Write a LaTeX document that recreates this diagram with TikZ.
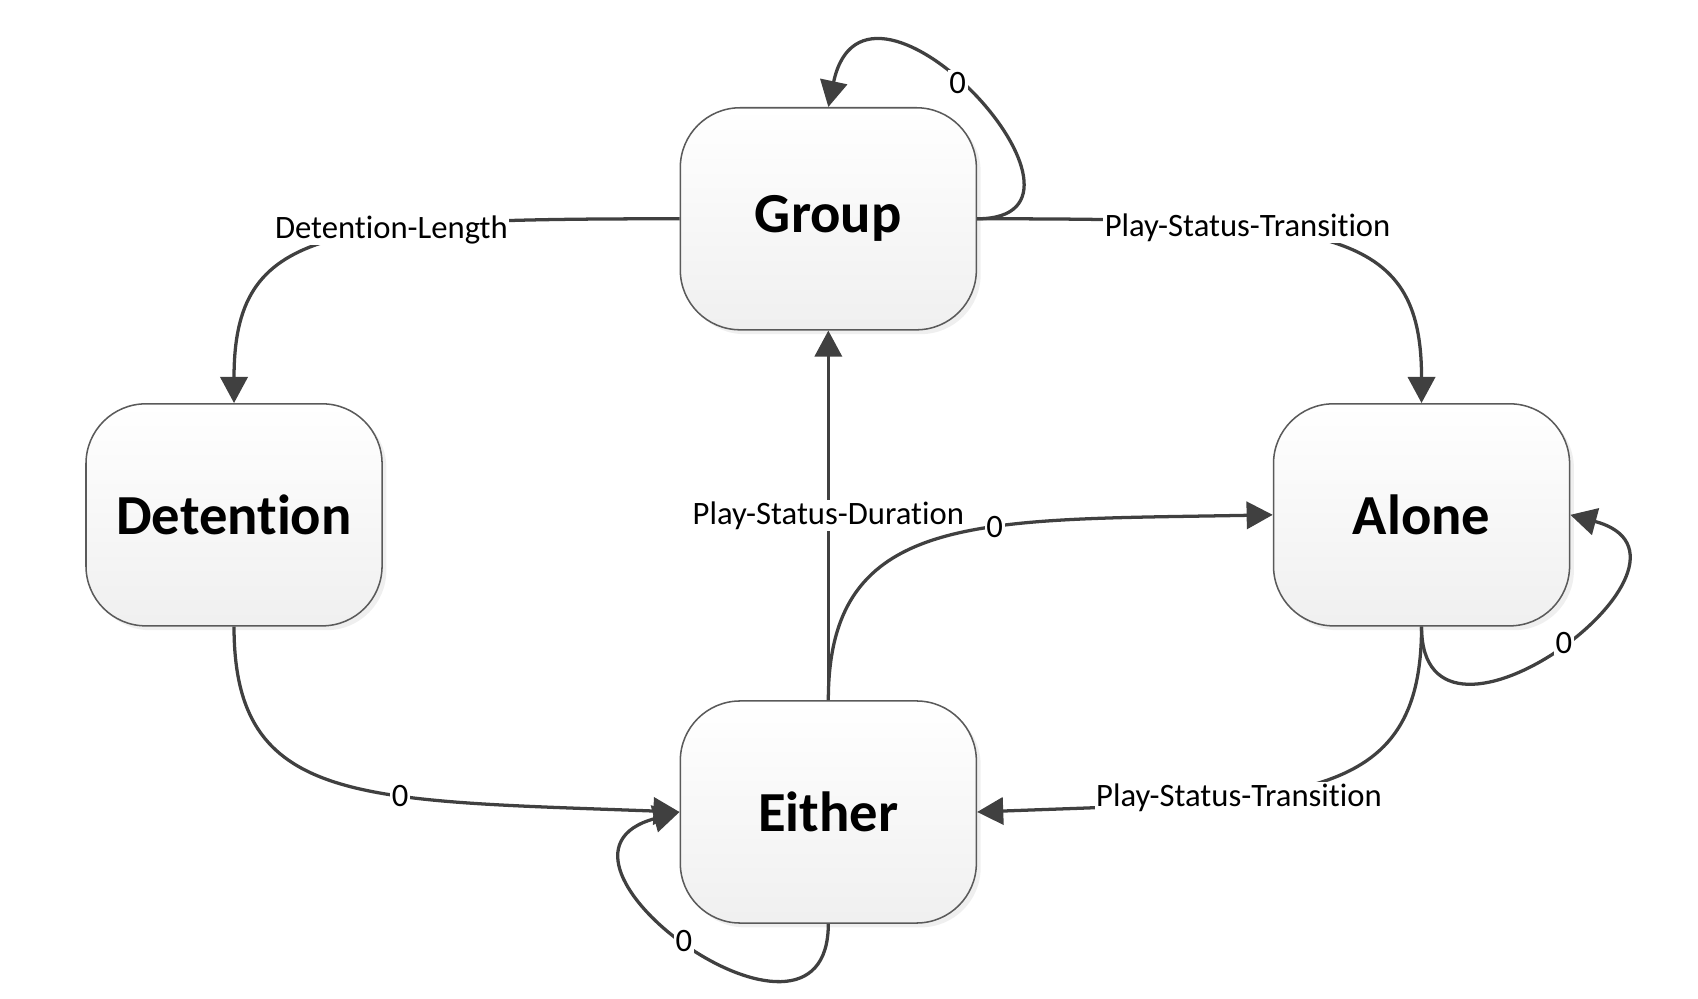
\documentclass[tikz,border=0pt]{standalone}
\usepackage{fontspec}
\setmainfont[Ligatures=NoCommon]{Carlito}
\usetikzlibrary{arrows.meta,shadows}
\definecolor{linec}{HTML}{404040}
\definecolor{boxc}{HTML}{5A5A5A}
\begin{document}
\begin{tikzpicture}[x=1pt,y=1pt,
  state/.style={draw=boxc, line width=1.4pt, rounded corners=55pt,
    minimum width=272pt, minimum height=204pt, inner sep=0pt,
    top color=white, bottom color=black!6,
    drop shadow={shadow xshift=4pt,shadow yshift=-4pt,fill=black!12},
    font=\fontsize{52}{60}\selectfont\bfseries},
  conn/.style={draw=linec, line width=3pt, -{Triangle[length=24pt,width=25pt]}},
  lbl/.style={fill=white, inner sep=1.5pt, text=black, font=\fontsize{30}{36}\selectfont}
]
\useasboundingbox (0,0) rectangle (1560,-917);

\node[state] (G) at (761,-201) {Group};
\node[state] (D) at (215,-473) {Detention};
\node[state] (A) at (1306,-473) {Alone};
\node[state] (E) at (761,-746) {Either};

% Group -> Detention
\draw[conn] (G.west) .. controls +(-325,0) and +(0,161) .. (D.north)
  node[lbl,pos=0.36] {Detention-Length};
% Group -> Alone
\draw[conn] (G.east) .. controls +(325,0) and +(0,161) .. (A.north)
  node[lbl,pos=0.33] {Play-Status-Transition};
% Either -> Group
\draw[conn] (E.north) -- (G.south) node[lbl,midway] {Play-Status-Duration};
% Either -> Alone
\draw[conn] (E.north) .. controls +(0,174) and +(-270,-5) .. (A.west)
  node[lbl,pos=0.61] {0};
% Detention -> Either
\draw[conn] (D.south) .. controls +(0,-164) and +(-295,11) .. (E.west)
  node[lbl,pos=0.63] {0};
% Alone -> Either
\draw[conn] (A.south) .. controls +(0,-164) and +(295,11) .. (E.east)
  node[lbl,pos=0.66] {Play-Status-Transition};
% self loops
\draw[conn] (G.east) to[out=0,in=78,out distance=140pt,in distance=165pt]
  node[lbl,pos=0.55] {0} (G.north);
\draw[conn] (A.south) to[out=-90,in=-15,out distance=150pt,in distance=155pt]
  node[lbl,pos=0.52] {0} (A.east);
\draw[conn] (E.south) to[out=-90,in=-165,out distance=150pt,in distance=160pt]
  node[lbl,pos=0.52] {0} (E.west);
\end{tikzpicture}
\end{document}
